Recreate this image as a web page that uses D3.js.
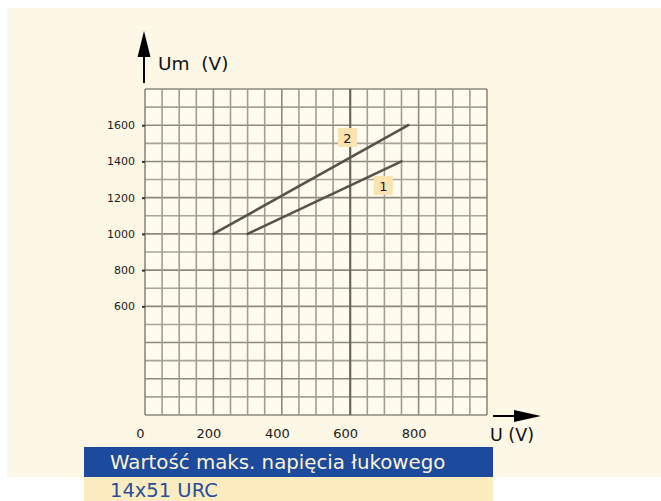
<!DOCTYPE html>
<html>
<head>
<meta charset="utf-8">
<script src="https://cdn.jsdelivr.net/npm/d3@7"></script>
<style>
  html, body { margin: 0; padding: 0; background: #ffffff; }
  svg { display: block; }
  text { font-family: "DejaVu Sans", "Noto Sans", sans-serif; }
</style>
</head>
<body>
<svg id="chart" width="661" height="501"></svg>
<script>
// Arc voltage characteristics, 14x51 URC fuse links
const seriesNames = ["1", "2"];
const seriesU  = [[300, 750], [200, 770]];     // U (V)
const seriesUm = [[1000, 1400], [1000, 1600]]; // Um (V)
const labelU  = [697, 592];                    // label anchor, U (V)
const labelUm = [1267, 1532];                  // label anchor, Um (V)

const xTickValues = [0, 200, 400, 600, 800];
const yTickValues = [600, 800, 1000, 1200, 1400, 1600];

const xAxisTitle = "U (V)";
const yAxisTitle = "Um  (V)";
const captionTitle = "Wartość maks. napięcia łukowego";
const captionSub = "14x51 URC";

const FONT = "'DejaVu Sans', 'Noto Sans', sans-serif";
const svg = d3.select("#chart");

// page panel
svg.append("rect").attr("x", 7).attr("y", 8).attr("width", 654).attr("height", 469)
  .attr("fill", "#fdf7e6");

const x = d3.scaleLinear().domain([0, 1000]).range([145, 487]);
const y = d3.scaleLinear().domain([0, 1800]).range([415, 89]);

// graph paper
const paper = svg.append("g");
paper.append("rect")
  .attr("x", x(0)).attr("y", y(1800))
  .attr("width", x(1000) - x(0)).attr("height", y(0) - y(1800))
  .attr("fill", "#fffbef");

const xGrid = d3.range(0, 1001, 50);
const yGrid = d3.range(0, 1801, 100);

paper.selectAll("line.h").data(yGrid).join("line")
  .attr("class", "h")
  .attr("x1", x(0)).attr("x2", x(1000))
  .attr("y1", d => y(d)).attr("y2", d => y(d))
  .attr("stroke", d => (d % 200 === 0 ? "#8f897d" : "#aaa498"))
  .attr("stroke-width", 1.6);

paper.selectAll("line.v").data(xGrid).join("line")
  .attr("class", "v")
  .attr("x1", d => x(d)).attr("x2", d => x(d))
  .attr("y1", y(0)).attr("y2", y(1800))
  .attr("stroke", d => (d === 600 ? "#6c665c" : (d % 200 === 0 ? "#8f897d" : "#a39d91")))
  .attr("stroke-width", d => (d === 600 ? 2.2 : 1.6));

// axes: ticks and labels
const xAxis = d3.axisBottom(x).tickValues(xTickValues).tickFormat(d3.format("d"))
  .tickSize(0).tickPadding(0);
const gx = svg.append("g").attr("transform", `translate(0, 438)`).call(xAxis);
gx.select(".domain").remove();
gx.selectAll("text")
  .attr("dy", 0).attr("dx", -5)
  .attr("font-size", 13).attr("font-family", FONT)
  .attr("fill", "#1a1a1a");

const yAxis = d3.axisLeft(y).tickValues(yTickValues).tickFormat(d3.format("d"))
  .tickSize(3).tickPadding(7);
const gy = svg.append("g").attr("transform", `translate(${x(0)}, 0)`).call(yAxis);
gy.select(".domain").remove();
gy.selectAll(".tick line").attr("stroke", "#333").attr("stroke-width", 2);
gy.selectAll("text")
  .attr("font-size", 11).attr("font-family", FONT)
  .attr("fill", "#1a1a1a");

// characteristic lines
const line = d3.line().x(d => x(d[0])).y(d => y(d[1]));
seriesNames.forEach((name, i) => {
  const pts = seriesU[i].map((u, j) => [u, seriesUm[i][j]]);
  svg.append("path").datum(pts)
    .attr("d", line)
    .attr("fill", "none")
    .attr("stroke", "#57534c")
    .attr("stroke-width", 2.6)
    .attr("stroke-linecap", "round");

  const cx = x(labelU[i]), cy = y(labelUm[i]);
  svg.append("rect")
    .attr("x", cx - 9.5).attr("y", cy - 9.5)
    .attr("width", 19).attr("height", 19)
    .attr("fill", "#fde3b2");
  svg.append("text")
    .attr("x", cx).attr("y", cy + 5)
    .attr("text-anchor", "middle")
    .attr("font-size", 13)
    .attr("fill", "#1a1a1a")
    .text(name);
});

// axis arrows
const arrows = svg.append("g").attr("fill", "#000").attr("stroke", "#000");
arrows.append("line").attr("x1", 144).attr("x2", 144).attr("y1", 83).attr("y2", 50)
  .attr("stroke-width", 2);
arrows.append("path").attr("d", "M144,31 L150.5,57 L137.5,57 Z").attr("stroke", "none");
arrows.append("line").attr("x1", 493).attr("x2", 520).attr("y1", 416).attr("y2", 416)
  .attr("stroke-width", 2);
arrows.append("path").attr("d", "M541,416 L514,410 L514,422 Z").attr("stroke", "none");

svg.append("text").attr("x", 158).attr("y", 70)
  .attr("font-size", 18.5).attr("fill", "#111")
  .attr("xml:space", "preserve").style("white-space", "pre")
  .text(yAxisTitle);
svg.append("text").attr("x", 490).attr("y", 441)
  .attr("font-size", 17.5).attr("fill", "#111")
  .text(xAxisTitle);

// caption bands
svg.append("rect").attr("x", 84).attr("y", 447).attr("width", 409).attr("height", 30)
  .attr("fill", "#1c4a9c");
svg.append("rect").attr("x", 84).attr("y", 477).attr("width", 409).attr("height", 24)
  .attr("fill", "#fdecbf");
svg.append("text").attr("x", 110).attr("y", 469)
  .attr("font-size", 19.8).attr("fill", "#fdf3d6")
  .text(captionTitle);
svg.append("text").attr("x", 110).attr("y", 497)
  .attr("font-size", 19.5).attr("fill", "#274f9e")
  .text(captionSub);
</script>
</body>
</html>
